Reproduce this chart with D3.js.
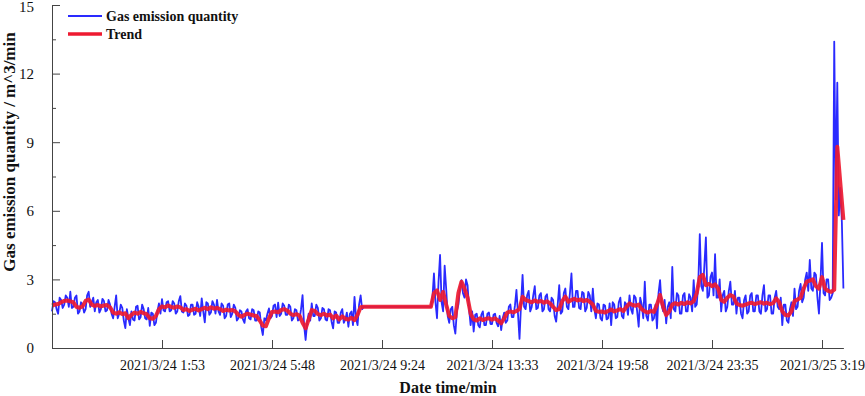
<!DOCTYPE html>
<html>
<head>
<meta charset="utf-8">
<script src="https://cdn.jsdelivr.net/npm/d3@7/dist/d3.min.js"></script>
<style>
  html, body { margin: 0; padding: 0; background: #fff; }
  svg { display: block; }
  text { font-family: "Liberation Serif", "Times New Roman", serif; fill: #111; }
</style>
</head>
<body>
<svg id="chart" width="865" height="396"></svg>
<script>
// ---- Data ----
// Raw gas emission samples (twice the density of the trend samples)
const gasEmission = [
  1.6,2.05, 2.0,1.7, 1.5,2.2, 2.1,1.75, 1.9,2.3, 2.2,1.8, 2.46,1.75, 1.8,2.2, 2.3,1.5, 1.6,2.0,
  1.9,1.55, 1.7,2.3, 2.46,1.8, 2.0,2.2, 1.6,2.0, 2.1,1.55, 1.7,2.15, 2.05,1.6, 1.65,2.1, 1.9,1.5,
  1.3,1.8, 2.3,1.3, 1.5,1.9, 1.75,1.2, 0.87,1.7, 1.3,1.0, 1.6,1.25, 1.2,1.8, 1.85,1.25, 1.35,1.9,
  1.7,1.3, 1.25,1.75, 0.97,1.55, 1.5,1.0, 1.1,1.6, 1.95,1.5, 2.14,1.65, 1.6,2.0, 2.05,1.6, 1.65,2.05,
  1.95,1.5, 1.6,2.05, 2.27,1.6, 1.55,1.95, 1.85,1.4, 1.45,1.9, 1.9,1.45, 1.5,2.0, 1.8,1.4, 2.17,1.6,
  1.12,2.0, 1.95,1.45, 1.55,2.05, 1.9,1.5, 2.1,1.6, 1.45,1.95, 1.85,1.3, 1.4,1.9, 1.95,1.35, 1.5,1.9,
  1.75,1.2, 1.3,1.65, 1.6,1.25, 1.1,1.6, 1.7,1.3,
  1.25,1.7, 1.65,1.2, 1.2,1.6, 1.55,0.9, 0.57,1.3, 1.2,1.5,
  1.73,1.3, 1.4,1.85, 1.9,1.35, 1.98,1.4, 1.5,1.95, 1.85,1.45, 1.45,1.9, 1.8,1.2, 1.3,1.7, 1.65,1.2,
  1.25,1.7, 2.31,1.0, 0.35,1.1, 1.5,1.2, 1.95,1.4, 1.4,1.9, 1.75,1.2, 1.3,1.75, 1.7,1.25, 1.2,1.7,
  1.65,1.15, 0.86,1.6, 1.55,1.1, 1.1,1.55, 1.7,1.1, 1.25,1.55, 0.93,1.5, 1.6,1.0, 2.24,1.3, 1.0,1.9,
  2.3,1.7, 1.8,1.8,
  1.8,1.8, 1.8,1.8, 1.8,1.8, 1.8,1.8, 1.8,1.8, 1.8,1.8, 1.8,1.8, 1.8,1.8, 1.8,1.8, 1.8,1.8, 1.8,1.8,
  1.8,1.8, 1.8,1.8, 1.8,1.8, 1.8,1.8, 1.8,1.8, 1.8,1.8, 1.8,1.8, 1.8,1.8, 1.8,1.8, 1.8,1.8, 1.8,2.2,
  3.26,2.0, 1.3,2.9, 4.07,2.0, 1.6,3.6, 2.6,1.4, 1.1,1.7, 1.8,1.0, 0.63,1.6, 1.9,2.6, 2.97,2.4,
  2.2,3.0, 2.75,1.7, 1.0,1.6, 0.72,1.45, 1.5,1.0, 0.9,1.45, 1.6,1.0, 1.0,1.5, 1.55,1.05, 1.05,1.45,
  1.5,1.1, 0.95,1.4, 0.78,1.3, 1.55,1.1, 1.2,1.8, 1.9,1.35, 1.35,1.85, 2.54,1.5, 0.4,1.9, 3.2,1.8,
  1.7,2.3, 2.5,1.6, 1.8,2.3, 2.7,1.7, 1.75,2.3, 2.4,1.6, 1.7,2.25, 2.35,1.7, 1.6,2.2, 2.1,1.4,
  1.15,1.9, 2.75,1.5, 1.6,2.4, 2.6,1.8, 1.7,2.4, 3.26,1.8, 1.8,2.5, 2.5,1.75, 1.7,2.45, 2.4,1.6,
  1.75,2.45, 2.3,1.6, 2.6,1.7, 1.3,1.95, 1.9,1.3, 1.2,1.9, 1.85,1.25, 1.3,1.95, 1.0,2.0, 1.9,1.3,
  1.35,2.0, 2.2,1.4, 1.3,2.0, 1.9,1.45, 2.3,1.7,
  1.5,2.3, 2.2,1.6, 0.93,2.2, 1.9,1.3, 2.9,1.4, 1.2,1.9, 1.9,1.2, 1.3,1.9, 0.86,2.4, 2.97,1.9,
  1.6,2.1, 1.08,1.8, 2.0,1.3, 3.55,1.7, 1.6,2.4, 2.3,1.5, 1.5,2.3, 2.4,1.6, 1.6,2.35, 2.2,1.6,
  2.97,1.8, 1.9,2.8, 4.98,2.7, 2.5,3.6, 4.84,2.2, 2.3,3.1, 3.3,2.3, 4.1,2.2, 2.2,3.0, 1.6,2.3,
  2.5,1.6, 1.8,2.5, 2.9,1.9, 1.9,2.5, 1.5,2.2, 2.2,1.5, 1.3,2.1, 2.3,1.5, 1.6,2.3, 2.4,1.6,
  1.6,2.3, 2.3,1.6, 1.5,2.3, 2.75,1.6, 1.7,2.3, 2.3,1.5, 1.5,2.2, 2.5,1.8, 1.7,2.2, 1.0,1.9,
  1.9,1.2, 1.1,1.7, 2.0,1.4, 2.6,1.7, 1.8,2.5, 2.8,2.0, 2.2,3.0, 3.3,2.5, 3.85,2.6, 2.5,3.3,
  3.2,2.2, 1.5,2.9, 4.6,2.4, 2.3,3.0, 3.0,2.1, 2.2,2.4, 13.4,6.5, 11.6,5.8, 7.0,5.5, 2.6
];

// Smoothed trend
const trend = [
  1.86, 1.9, 1.92, 2.0, 2.06, 2.08, 2.04, 2.0, 1.8, 1.76,
  1.82, 2.06, 2.12, 1.9, 1.84, 1.88, 1.82, 1.86, 1.88, 1.78,
  1.55, 1.5, 1.56, 1.48, 1.52, 1.3, 1.45, 1.55, 1.5, 1.58,
  1.52, 1.48, 1.3, 1.28, 1.4, 1.7, 1.82, 1.78, 1.86, 1.8,
  1.76, 1.82, 1.78, 1.66, 1.7, 1.62, 1.68, 1.72, 1.64, 1.7,
  1.76, 1.7, 1.78, 1.72, 1.75, 1.7, 1.62, 1.68, 1.64, 1.66,
  1.6, 1.45, 1.37, 1.45, 1.5,
  1.46, 1.42, 1.4, 1.2, 0.98, 0.95, 1.3, 1.58, 1.6, 1.56,
  1.66, 1.7, 1.64, 1.5, 1.44, 1.48, 1.42, 1.1, 0.86, 1.25,
  1.66, 1.62, 1.48, 1.44, 1.5, 1.42, 1.46, 1.3, 1.42, 1.25,
  1.38, 1.28, 1.24, 1.32, 1.22, 1.45, 1.78, 1.8,
  1.8, 1.8, 1.8, 1.8, 1.8, 1.8, 1.8, 1.8, 1.8, 1.8, 1.8,
  1.8, 1.8, 1.8, 1.8, 1.8, 1.8, 1.8, 1.8, 1.8, 1.8, 1.8,
  2.4, 2.52, 2.1, 2.45, 1.9, 1.4, 1.3, 1.35, 2.4, 2.9,
  2.6, 2.2, 1.5, 1.25, 1.2, 1.3, 1.22, 1.28, 1.3, 1.24,
  1.3, 1.2, 1.08, 1.3, 1.55, 1.6, 1.56, 1.62, 1.7, 2.24,
  2.1, 2.05, 2.0, 2.08, 2.02, 2.06, 1.98, 2.04, 1.95, 1.8,
  1.66, 1.7, 2.05, 2.25, 2.02, 2.1, 2.15, 2.08, 2.12, 2.05,
  2.1, 2.02, 1.9, 1.62, 1.58, 1.6, 1.55, 1.62, 1.68, 1.6,
  1.65, 1.7, 1.62, 1.8, 1.95,
  1.88, 1.85, 1.9, 1.7, 1.6, 1.55, 1.62, 1.58, 1.9, 2.32,
  1.8, 1.44, 1.6, 1.9, 1.96, 1.9, 1.98, 1.92, 2.0, 1.95,
  2.05, 2.4, 3.1, 3.2, 2.75, 2.8, 2.7, 2.78, 2.6, 2.1,
  2.02, 2.2, 2.32, 2.25, 1.95, 1.88, 1.85, 1.9, 1.95, 1.98,
  1.92, 1.96, 2.0, 1.94, 1.98, 1.92, 1.96, 2.17, 2.0, 1.6,
  1.44, 1.42, 1.6, 2.05, 2.12, 2.2, 2.6, 2.9, 2.95, 3.0,
  2.7, 2.6, 3.1, 2.6, 2.5, 2.45, 2.55, 8.8, 7.2, 5.6
];

const yTicks = [0, 3, 6, 9, 12, 15];
const yMinorTicks = [1.5, 4.5, 7.5, 10.5, 13.5];
const xTickIndex = [36, 72, 108, 144, 180, 216, 252];
const xTickLabels = [
  "2021/3/24 1:53", "2021/3/24 5:48", "2021/3/24 9:24", "2021/3/24 13:33",
  "2021/3/24 19:58", "2021/3/24 23:35", "2021/3/25 3:19"
];
const seriesNames = ["Gas emission quantity", "Trend"];
const seriesColors = ["#2a2aff", "#ee1a30"];

// ---- Chart ----
const svg = d3.select("#chart");
const nT = trend.length;
const nB = gasEmission.length;
const x = d3.scaleLinear().domain([0, nT - 1]).range([52, 843.4]);
const y = d3.scaleLinear().domain([0, 15]).range([348, 5]);

const rawLine = d3.line().x((d, j) => x(j * (nT - 1) / (nB - 1))).y(d => y(d));
const trendLine = d3.line().x((d, i) => x(i)).y(d => y(d));

svg.append("path")
  .datum(gasEmission)
  .attr("fill", "none")
  .attr("stroke", seriesColors[0])
  .attr("stroke-width", 1.8)
  .attr("stroke-linejoin", "round")
  .attr("d", rawLine);

svg.append("path")
  .datum(trend)
  .attr("fill", "none")
  .attr("stroke", seriesColors[1])
  .attr("stroke-opacity", 0.92)
  .attr("stroke-width", 4)
  .attr("stroke-linejoin", "round")
  .attr("d", trendLine);

// Axes
const axisColor = "#444";
const yAxis = d3.axisLeft(y).tickValues(yTicks).tickSizeInner(-8).tickSizeOuter(0).tickPadding(18);
const gy = svg.append("g").attr("transform", "translate(52,0)").call(yAxis);
gy.select(".domain").attr("stroke", axisColor);
gy.selectAll(".tick line").attr("stroke", axisColor);
gy.selectAll(".tick text")
  .attr("font-family", "Liberation Serif")
  .attr("font-size", 15)
  .attr("fill", "#111")
  .attr("dy", d => d === 15 ? "0.45em" : "0.32em");

const yMinor = d3.axisLeft(y).tickValues(yMinorTicks).tickSizeInner(-4).tickSizeOuter(0).tickFormat("");
const gym = svg.append("g").attr("transform", "translate(52,0)").call(yMinor);
gym.select(".domain").remove();
gym.selectAll(".tick line").attr("stroke", axisColor);

const xAxis = d3.axisBottom(x).tickValues(xTickIndex)
  .tickFormat((d, i) => xTickLabels[i])
  .tickSizeInner(-8).tickSizeOuter(0).tickPadding(12);
const gx = svg.append("g").attr("transform", "translate(0,348)").call(xAxis);
gx.select(".domain").attr("stroke", axisColor);
gx.selectAll(".tick line").attr("stroke", axisColor);
gx.selectAll(".tick text")
  .attr("font-family", "Liberation Serif")
  .attr("font-size", 14)
  .attr("fill", "#111");

// Axis titles
svg.append("text")
  .attr("x", 448).attr("y", 393)
  .attr("text-anchor", "middle")
  .attr("font-weight", "bold")
  .attr("font-size", 16)
  .text("Date time/min");

svg.append("text")
  .attr("transform", "translate(15,152) rotate(-90)")
  .attr("text-anchor", "middle")
  .attr("font-weight", "bold")
  .attr("font-size", 17)
  .text("Gas emission quantity / m^3/min");

// Legend
const legend = svg.append("g");
seriesNames.forEach((name, i) => {
  const ly = 16 + i * 18;
  legend.append("line")
    .attr("x1", 68).attr("x2", 102).attr("y1", ly).attr("y2", ly)
    .attr("stroke", seriesColors[i])
    .attr("stroke-width", i === 0 ? 2 : 3.5);
  legend.append("text")
    .attr("x", 106).attr("y", ly + 5)
    .attr("font-weight", "bold")
    .attr("font-size", 14)
    .text(name);
});
</script>
</body>
</html>
